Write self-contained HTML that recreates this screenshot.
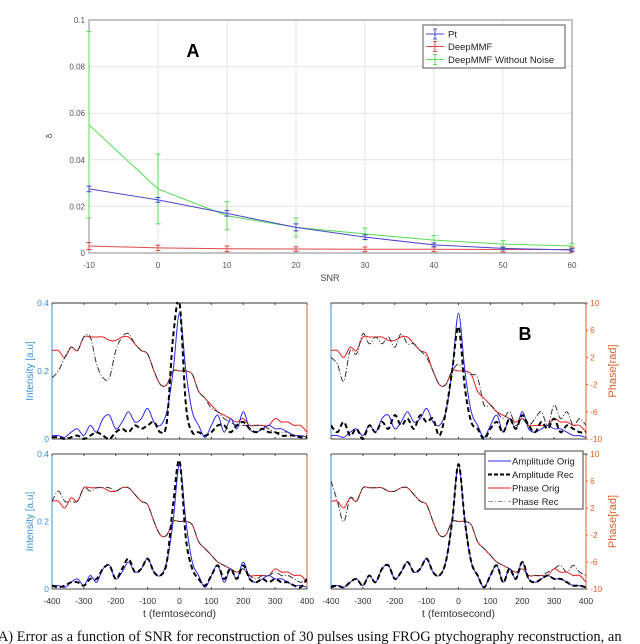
<!DOCTYPE html>
<html><head><meta charset="utf-8"><style>
html,body{margin:0;padding:0;background:#fff;width:640px;height:644px;overflow:hidden}
svg{display:block;font-family:"Liberation Sans",sans-serif}
</style></head><body>
<svg id="fig" width="640" height="644" viewBox="0 0 640 644"></svg>
<script>
// ---------- Panel A data ----------
const snrCats = [-10, 0, 10, 20, 30, 40, 50, 60];
const ptVals = [0.0275, 0.0228, 0.017, 0.011, 0.0068, 0.0035, 0.002, 0.0013];
const ptErr = [0.0012, 0.001, 0.0012, 0.0015, 0.001, 0.0008, 0.0006, 0.0005];
const deepVals = [0.003, 0.0022, 0.0018, 0.0017, 0.0016, 0.0016, 0.0015, 0.0015];
const deepErr = [0.0015, 0.0012, 0.0012, 0.001, 0.001, 0.001, 0.001, 0.001];
const greenVals = [0.055, 0.0275, 0.016, 0.011, 0.0082, 0.0055, 0.0038, 0.003];
const greenErr = [0.04, 0.015, 0.006, 0.004, 0.0025, 0.002, 0.0015, 0.001];
const aYTicks = [0, 0.02, 0.04, 0.06, 0.08, 0.1];
const aYTickLabels = ["0", "0.02", "0.04", "0.06", "0.08", "0.1"];
// ---------- Panel B data ----------
const tVals = [-400,-380,-360,-340,-320,-300,-280,-260,-240,-220,-200,-180,-160,-140,-120,-100,-80,-60,-40,-20,0,20,40,60,80,100,120,140,160,180,200,220,240,260,280,300,320,340,360,380,400];
const ampOrig = [0.01,0.01,0.005,0.02,0.03,0.01,0.04,0.02,0.06,0.07,0.03,0.05,0.08,0.05,0.06,0.09,0.05,0.04,0.08,0.2,0.37,0.2,0.08,0.04,0.005,0.04,0.07,0.02,0.06,0.03,0.08,0.03,0.02,0.03,0.04,0.03,0.03,0.02,0.01,0.01,0.005];
const phaseOrig = [3,3,2,3.5,3,5,5,5,5,4.5,4.5,5,5,4,3,2.5,0,-2,-2,0,0,0,-0.5,-3,-4,-5,-6,-6.5,-7,-7.5,-7,-8,-8,-8,-8,-7,-7.5,-7.5,-8,-8,-9];
const ampRecTL = [0.005,0.005,0,0.005,0.01,0,0.01,0.02,0.01,0,0.02,0.03,0.02,0.04,0.03,0.04,0.05,0.02,0.05,0.3,0.4,0.1,0.02,0.02,0.01,0.02,0.04,0.04,0.02,0.04,0.05,0.03,0.02,0.03,0.02,0.02,0.01,0.01,0.01,0.005,0.005];
const phaseRecTL = [-1,0,2,3.5,3,5,5,1,-1,-1,3,5,5.5,4,3,2.5,0,-2,-2,0,0,0,-0.5,-3,-4,-5.5,-6,-7,-7.5,-8,-8,-8,-8,-8,-8.5,-9,-9,-9,-9.5,-9.5,-9.5];
const ampRecTR = [0.04,0.02,0.05,0.01,0.03,0,0.04,0.02,0.05,0.03,0.07,0.04,0.06,0.03,0.07,0.05,0.06,0.01,0.08,0.2,0.33,0.15,0.05,0.03,0,0.03,0.05,0.02,0.06,0.03,0.07,0.04,0.02,0.05,0.03,0.06,0.02,0.04,0.03,0.02,0.02];
const phaseRecTR = [2,1,-1.5,3,2.5,5.5,4,5,4,5,3.5,5.5,4,4,3,2,0,-2,-2,0,1,0,-0.5,-1,-5,-5,-6,-7,-6,-8,-7,-8,-7,-6,-8,-5,-7,-6,-8,-7,-8];
const ampRecBL = [0.01,0.005,0.01,0.02,0.02,0.01,0.03,0.03,0.06,0.07,0.03,0.06,0.09,0.05,0.06,0.09,0.05,0.04,0.08,0.25,0.38,0.15,0.06,0.03,0.01,0.04,0.07,0.03,0.06,0.03,0.07,0.03,0.02,0.03,0.02,0.03,0.02,0.02,0.01,0.005,0.03];
const phaseRecBL = [3,4.5,3,3,3,5,4.5,5,5,5,4.5,5,5,4,3,2.5,0,-2,-2,0,0,0,-0.5,-3,-4,-5,-6,-6.5,-7,-7.5,-7,-8,-8.5,-8,-8,-7.5,-8,-8,-8.5,-9,-8.5];
const ampRecBR = [0.005,0.01,0.005,0.02,0.03,0.01,0.04,0.02,0.06,0.07,0.03,0.05,0.08,0.05,0.06,0.09,0.05,0.04,0.08,0.2,0.37,0.2,0.08,0.04,0.005,0.04,0.07,0.02,0.06,0.03,0.08,0.03,0.02,0.03,0.04,0.03,0.03,0.02,0.01,0.01,0.005];
const phaseRecBR = [6,3,0,3.5,3,5,5,5,5,4.5,4.5,5,5,4,3,2.5,0,-2,-2,0,0,0,-0.5,-3,-4,-5,-6,-6.5,-7,-7.5,-7,-8,-8,-8,-7.5,-7,-6.5,-7.5,-6.5,-7.5,-8];
const tTicks = [-400,-300,-200,-100,0,100,200,300,400];
const ampTicks = [0, 0.2, 0.4];
const phaseTicks = [10, 6, 2, -2, -6, -10];

const NS = "http://www.w3.org/2000/svg";
const svg = document.getElementById("fig");
function mk(tag, attrs, parent) {
  const e = document.createElementNS(NS, tag);
  for (const k in attrs) e.setAttribute(k, attrs[k]);
  (parent || svg).appendChild(e);
  return e;
}
function txt(s, attrs, parent) { const e = mk("text", attrs, parent); e.textContent = s; return e; }
function smooth(pts) {
  let d = "M" + pts[0][0].toFixed(1) + "," + pts[0][1].toFixed(1);
  for (let i = 0; i < pts.length - 1; i++) {
    const p0 = pts[i - 1] || pts[i], p1 = pts[i], p2 = pts[i + 1], p3 = pts[i + 2] || p2;
    const c1x = p1[0] + (p2[0] - p0[0]) / 6, c1y = p1[1] + (p2[1] - p0[1]) / 6;
    const c2x = p2[0] - (p3[0] - p1[0]) / 6, c2y = p2[1] - (p3[1] - p1[1]) / 6;
    d += "C" + c1x.toFixed(1) + "," + c1y.toFixed(1) + " " + c2x.toFixed(1) + "," + c2y.toFixed(1) + " " + p2[0].toFixed(1) + "," + p2[1].toFixed(1);
  }
  return d;
}

// ---------- Panel A ----------
const A = {x0: 89, x1: 572, y0: 253, y1: 20};
const ax = s => A.x0 + (s - snrCats[0]) / (snrCats[snrCats.length - 1] - snrCats[0]) * (A.x1 - A.x0);
const ay = v => A.y0 - v / 0.1 * (A.y0 - A.y1);
const gA = mk("g", {});


mk("rect", {x: A.x0, y: A.y1, width: A.x1 - A.x0, height: A.y0 - A.y1, fill: "#fff", stroke: "none"}, gA);
snrCats.forEach(s => mk("line", {x1: ax(s), x2: ax(s), y1: A.y1, y2: A.y0, stroke: "#e4e4e4", "stroke-width": 1}, gA));
aYTicks.forEach((v, i) => {
  mk("line", {x1: A.x0, x2: A.x1, y1: ay(v), y2: ay(v), stroke: "#e4e4e4", "stroke-width": 1}, gA);
  const t = txt(aYTickLabels[i], {x: A.x0 - 4, y: ay(v) + 3, "font-size": 8, fill: "#555", "text-anchor": "end"}, gA);
  
  
});
snrCats.forEach(s => {
  const t = txt(String(s), {x: ax(s), y: 268, "font-size": 8, fill: "#555", "text-anchor": "middle"}, gA);
  
  
});
mk("rect", {x: A.x0, y: A.y1, width: A.x1 - A.x0, height: A.y0 - A.y1, fill: "none", stroke: "#888", "stroke-width": 1}, gA);
const xt = txt("SNR", {x: 330, y: 281, "font-size": 9, fill: "#444", "text-anchor": "middle"}, gA);


const yt = txt("δ", {x: 52, y: 136, "font-size": 8, fill: "#444", "text-anchor": "middle", transform: "rotate(-90 52 136)"}, gA);


const lblA = txt("A", {x: 193, y: 57, "font-size": 18, "font-weight": "bold", fill: "#000", "text-anchor": "middle"}, gA);



function series(vals, errs, color, name) {
  const g = mk("g", {}, gA);
  
  
  mk("polyline", {points: vals.map((v, i) => ax(snrCats[i]) + "," + ay(v)).join(" "), fill: "none", stroke: color, "stroke-width": 1}, g);
  vals.forEach((v, i) => {
    const x = ax(snrCats[i]);
    const eb = mk("path", {d: `M${x},${ay(v - errs[i])}V${ay(v + errs[i])}M${x - 2.5},${ay(v - errs[i])}H${x + 2.5}M${x - 2.5},${ay(v + errs[i])}H${x + 2.5}`, stroke: color, "stroke-width": 1, fill: "none"}, g);
    
    
  });
}
series(deepVals, deepErr, "#e04848", "deepmmf-series");
series(greenVals, greenErr, "#55dd55", "deepmmf-without-noise-series");
series(ptVals, ptErr, "#4848d0", "pt-series");

const legA = mk("g", {});


mk("rect", {x: 423, y: 25, width: 142, height: 43, fill: "#fff", stroke: "#555", "stroke-width": 1}, legA);
[["Pt", "#4848d0", 34], ["DeepMMF", "#e04848", 46.5], ["DeepMMF Without Noise", "#55dd55", 59.5]].forEach(([n, c, y]) => {
  const e = mk("g", {}, legA);
  
  
  mk("path", {d: `M426,${y}H444M435,${y - 5}V${y + 5}M433,${y - 5}H437M433,${y + 5}H437`, stroke: c, "stroke-width": 1, fill: "none"}, e);
  txt(n, {x: 448, y: y + 3.5, "font-size": 9.5, fill: "#222"}, e);
});

// ---------- Panel B ----------
const panels = [
  {x0: 52, x1: 307, y0: 439, y1: 303, ampRec: ampRecTL, phRec: phaseRecTL, name: "panel-b-top-left", bottom: false},
  {x0: 331, x1: 586, y0: 439, y1: 303, ampRec: ampRecTR, phRec: phaseRecTR, name: "panel-b-top-right", bottom: false},
  {x0: 52, x1: 307, y0: 589, y1: 454, ampRec: ampRecBL, phRec: phaseRecBL, name: "panel-b-bottom-left", bottom: true},
  {x0: 331, x1: 586, y0: 589, y1: 454, ampRec: ampRecBR, phRec: phaseRecBR, name: "panel-b-bottom-right", bottom: true}
];
panels.forEach((p, idx) => {
  const g = mk("g", {});
  
  
  const tx = t => p.x0 + (t + 400) / 800 * (p.x1 - p.x0);
  const yA = v => p.y0 - v / 0.4 * (p.y0 - p.y1);
  const yP = v => p.y0 - (v + 10) / 20 * (p.y0 - p.y1);
  // frame
  mk("line", {x1: p.x0, x2: p.x1, y1: p.y1, y2: p.y1, stroke: p.bottom ? "#444" : "#999", "stroke-width": p.bottom ? 1 : 2}, g);
  mk("line", {x1: p.x0, x2: p.x1, y1: p.y0, y2: p.y0, stroke: "#444", "stroke-width": 1}, g);
  mk("line", {x1: p.x0, x2: p.x0, y1: p.y1, y2: p.y0, stroke: "#3a90d8", "stroke-width": 1}, g);
  mk("line", {x1: p.x1, x2: p.x1, y1: p.y1, y2: p.y0, stroke: "#e0602a", "stroke-width": 1}, g);
  tTicks.forEach(t => {
    mk("line", {x1: tx(t), x2: tx(t), y1: p.y0, y2: p.y0 - 2, stroke: "#444"}, g);
    mk("line", {x1: tx(t), x2: tx(t), y1: p.y1, y2: p.y1 + 2, stroke: "#444"}, g);
    if (p.bottom) {
      const l = txt(String(t), {x: tx(t), y: 604, "font-size": 8.5, fill: "#333", "text-anchor": "middle"}, g);
      
      
    }
  });
  if (idx % 2 === 0) {
    ampTicks.forEach(v => {
      const l = txt(String(v), {x: p.x0 - 3, y: yA(v) + 3, "font-size": 8.5, fill: "#3a90d8", "text-anchor": "end"}, g);
      
      
    });
    const yl = txt("Intensity [a.u]", {x: 33, y: (p.y0 + p.y1) / 2, "font-size": 10, fill: "#3a90d8", "text-anchor": "middle", transform: `rotate(-90 33 ${(p.y0 + p.y1) / 2})`}, g);
    
    
  } else {
    phaseTicks.forEach(v => {
      mk("line", {x1: p.x1, x2: p.x1 + 2, y1: yP(v), y2: yP(v), stroke: "#e0602a"}, g);
      const l = txt(String(v), {x: p.x1 + 4, y: yP(v) + 3, "font-size": 8.5, fill: "#e0602a"}, g);
      
      
    });
    const yl = txt("Phase[rad]", {x: 616, y: (p.y0 + p.y1) / 2, "font-size": 11, fill: "#e0602a", "text-anchor": "middle", transform: `rotate(-90 616 ${(p.y0 + p.y1) / 2})`}, g);
    
    
  }
  const clipId = "clip" + idx;
  const cp = mk("clipPath", {id: clipId}, g);
  mk("rect", {x: p.x0, y: p.y1 - 1, width: p.x1 - p.x0, height: p.y0 - p.y1 + 2}, cp);
  const cg = mk("g", {"clip-path": `url(#${clipId})`}, g);
  const curve = (arr, yf, attrs, name) => {
    const e = mk("path", Object.assign({d: smooth(arr.map((v, i) => [tx(tVals[i]), yf(v)])), fill: "none"}, attrs), cg);
    
    
  };
  curve(phaseOrig, yP, {stroke: "#ee2020", "stroke-width": 1}, "phase-orig-line");
  curve(p.phRec, yP, {stroke: "#333", "stroke-width": 1, "stroke-dasharray": "6 2 1 2"}, "phase-rec-line");
  curve(ampOrig, yA, {stroke: "#2a2aee", "stroke-width": 1}, "amplitude-orig-line");
  curve(p.ampRec, yA, {stroke: "#000", "stroke-width": 2, "stroke-dasharray": "5 3"}, "amplitude-rec-line");
  if (p.bottom) {
    const xl = txt("t (femtosecond)", {x: (p.x0 + p.x1) / 2, y: 617, "font-size": 10.5, fill: "#333", "text-anchor": "middle"}, g);
    
    
  }
});
const lblB = txt("B", {x: 525, y: 340, "font-size": 18, "font-weight": "bold", fill: "#000", "text-anchor": "middle"});



const legB = mk("g", {});


mk("rect", {x: 485, y: 451, width: 98, height: 58, fill: "#fff", stroke: "#444", "stroke-width": 1}, legB);
[["Amplitude Orig", {stroke: "#2a2aee", "stroke-width": 1}, 461],
 ["Amplitude Rec", {stroke: "#000", "stroke-width": 2, "stroke-dasharray": "4 2"}, 474.5],
 ["Phase Orig", {stroke: "#ee2020", "stroke-width": 1}, 488],
 ["Phase Rec", {stroke: "#999", "stroke-width": 1, "stroke-dasharray": "5 2 1 2"}, 501.5]].forEach(([n, st, y]) => {
  const e = mk("g", {}, legB);
  
  
  mk("line", Object.assign({x1: 488, x2: 511, y1: y, y2: y}, st), e);
  txt(n, {x: 512, y: y + 3.5, "font-size": 9.5, fill: "#222"}, e);
});

const cap = txt("(A) Error as a function of SNR for reconstruction of 30 pulses using FROG ptychography reconstruction, an", {x: -7, y: 641, "font-size": 14.5, fill: "#111", "font-family": "Liberation Serif, serif"});


</script>
</body></html>
